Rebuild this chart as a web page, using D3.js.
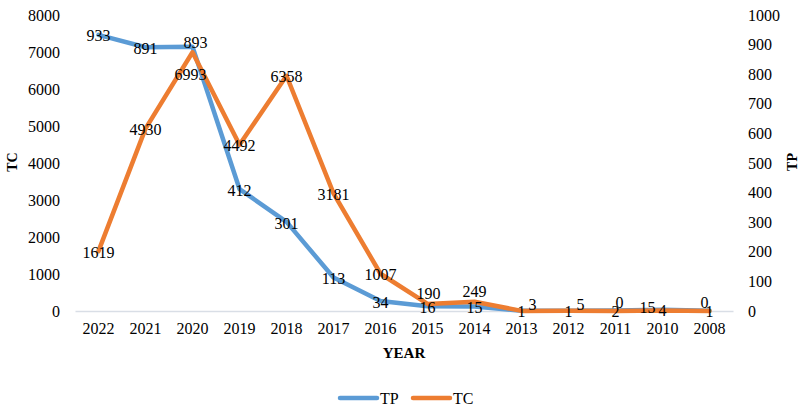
<!DOCTYPE html>
<html>
<head>
<meta charset="utf-8">
<script src="https://cdn.jsdelivr.net/npm/d3@7"></script>
<style>
  body { margin: 0; background: #fff; }
  svg { display: block; }
  svg text { font-family: "Liberation Serif", "Times New Roman", serif !important; }
</style>
</head>
<body>
<svg id="chart" width="799" height="407"></svg>
<script>
// data
const years = ["2022", "2021", "2020", "2019", "2018", "2017", "2016", "2015", "2014", "2013", "2012", "2011", "2010", "2008"];
const tpValues = [933, 891, 893, 412, 301, 113, 34, 16, 15, 1, 1, 2, 4, 1];
const tcValues = [1619, 4930, 6993, 4492, 6358, 3181, 1007, 190, 249, 3, 5, 0, 15, 0];
const tcTicks = [0, 1000, 2000, 3000, 4000, 5000, 6000, 7000, 8000];
const tpTicks = [0, 100, 200, 300, 400, 500, 600, 700, 800, 900, 1000];

// manual label nudges (like labels dragged by hand in the original)
const tpNudge = { "2020": [3, -5] };
const tcNudge = {
    "2020": [-2, 21], "2015": [1, -12], "2014": [0, -11],
    "2013": [11, -7], "2012": [12, -7], "2011": [4, -10],
    "2010": [-15, -4], "2008": [-5, -10]
};

const blue = "#5b9bd5", orange = "#ed7d31";
const margin = { top: 15, right: 66, bottom: 96, left: 75 };
const W = 799, H = 407;

const svg = d3.select("#chart");
const chart = svg.append("g");

const x = d3.scaleBand().domain(years).range([margin.left, W - margin.right]);
const yL = d3.scaleLinear().domain([0, 8000]).range([H - margin.bottom, margin.top]);
const yR = d3.scaleLinear().domain([0, 1000]).range([H - margin.bottom, margin.top]);
const cx = d => x(d) + x.bandwidth() / 2;

// left axis (TC)
const axL = chart.append("g")
    .attr("transform", `translate(${margin.left},0)`)
    .call(d3.axisLeft(yL).tickValues(tcTicks).tickFormat(d3.format("d")).tickSize(0).tickPadding(15));
axL.select(".domain").remove();

// right axis (TP)
const axR = chart.append("g")
    .attr("transform", `translate(${W - margin.right},0)`)
    .call(d3.axisRight(yR).tickValues(tpTicks).tickFormat(d3.format("d")).tickSize(0).tickPadding(15));
axR.select(".domain").remove();

// bottom axis
const axB = chart.append("g")
    .attr("transform", `translate(0,${H - margin.bottom})`)
    .call(d3.axisBottom(x).tickSize(0).tickPadding(12));
axB.select(".domain").attr("stroke", "#d9dee6").attr("stroke-width", 1.3);

chart.selectAll("g.tick text")
    .style("font-size", "16px")
    .attr("fill", "#000");

// axis titles
chart.append("text")
    .attr("transform", "translate(17,162) rotate(-90)")
    .attr("text-anchor", "middle")
    .attr("font-weight", "bold").attr("font-size", 14)
    .text("TC");
chart.append("text")
    .attr("transform", "translate(797,162) rotate(-90)")
    .attr("text-anchor", "middle")
    .attr("font-weight", "bold").attr("font-size", 14)
    .text("TP");
chart.append("text")
    .attr("x", 404).attr("y", 358)
    .attr("text-anchor", "middle")
    .attr("font-weight", "bold").attr("font-size", 15)
    .text("YEAR");

// lines
const tpLine = d3.line().x((d, i) => cx(years[i])).y(d => yR(d));
const tcLine = d3.line().x((d, i) => cx(years[i])).y(d => yL(d));

chart.append("path").datum(tpValues)
    .attr("d", tpLine)
    .attr("fill", "none").attr("stroke", blue)
    .attr("stroke-width", 4.5).attr("stroke-linejoin", "round").attr("stroke-linecap", "round");

chart.append("path").datum(tcValues)
    .attr("d", tcLine)
    .attr("fill", "none").attr("stroke", orange)
    .attr("stroke-width", 4.5).attr("stroke-linejoin", "round").attr("stroke-linecap", "round");

// data labels
function addLabels(values, scale, nudge, cls) {
    chart.append("g").attr("class", cls)
        .selectAll("text").data(values).join("text")
        .attr("x", (d, i) => cx(years[i]) + (nudge[years[i]] ? nudge[years[i]][0] : 0))
        .attr("y", (d, i) => scale(d) + 1 + (nudge[years[i]] ? nudge[years[i]][1] : 0))
        .attr("dy", "0.35em")
        .attr("text-anchor", "middle")
        .attr("font-size", 16)
        .attr("fill", "#000")
        .text(d => d);
}
addLabels(tpValues, yR, tpNudge, "tp-labels");
addLabels(tcValues, yL, tcNudge, "tc-labels");

// legend
const legend = chart.append("g").attr("transform", "translate(0,398)");
const items = [{ name: "TP", color: blue, x: 340 }, { name: "TC", color: orange, x: 413 }];
items.forEach(it => {
    legend.append("line")
        .attr("x1", it.x).attr("x2", it.x + 37)
        .attr("y1", 0).attr("y2", 0)
        .attr("stroke", it.color).attr("stroke-width", 4.5).attr("stroke-linecap", "round");
    legend.append("text")
        .attr("x", it.x + 40).attr("y", 0).attr("dy", "0.35em")
        .attr("font-size", 16)
        .text(it.name);
});
</script>
</body>
</html>
